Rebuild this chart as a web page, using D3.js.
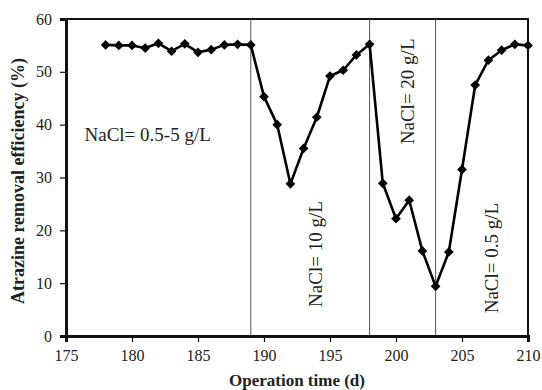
<!DOCTYPE html>
<html>
<head>
<meta charset="utf-8">
<script src="https://cdn.jsdelivr.net/npm/d3@7"></script>
<style>
  body { margin: 0; background: #fff; }
  svg text { font-family: "Liberation Serif", "Times New Roman", serif; fill: #222; }
</style>
</head>
<body>
<div id="chart"></div>
<script>
// operation days and removal efficiency (%)
const days = [178, 179, 180, 181, 182, 183, 184, 185, 186, 187, 188, 189,
  190, 191, 192, 193, 194, 195, 196, 197, 198,
  199, 200, 201, 202, 203,
  204, 205, 206, 207, 208, 209, 210];
const efficiency = [55.1, 55.0, 55.0, 54.5, 55.4, 53.9, 55.3, 53.7, 54.2, 55.1, 55.2, 55.1,
  45.3, 40.0, 28.8, 35.5, 41.4, 49.2, 50.3, 53.2, 55.2,
  28.9, 22.2, 25.7, 16.1, 9.4,
  15.9, 31.5, 47.5, 52.2, 54.1, 55.2, 55.0];
const phaseBreaks = [189, 198, 203];
const xTicks = [175, 180, 185, 190, 195, 200, 205, 210];
const yTicks = [0, 10, 20, 30, 40, 50, 60];
const labels = [
  { text: "NaCl= 0.5-5 g/L", day: 176.4, value: 37, rotate: false },
  { text: "NaCl= 10 g/L", day: 194.4, value: 5.5, rotate: true },
  { text: "NaCl= 20 g/L", day: 201.4, value: 36.3, rotate: true },
  { text: "NaCl= 0.5 g/L", day: 207.7, value: 4.3, rotate: true }
];

const width = 542, height = 390;
const margin = { top: 19, right: 14, bottom: 54, left: 66 };

const svg = d3.select("#chart").append("svg")
  .attr("width", width)
  .attr("height", height);

const x = d3.scaleLinear().domain([175, 210]).range([margin.left, width - margin.right]);
const y = d3.scaleLinear().domain([0, 60]).range([height - margin.bottom, margin.top]);

// top and right frame
svg.append("path")
  .attr("d", `M${x(175)},${y(60)}H${x(210)}V${y(0)}`)
  .attr("fill", "none")
  .attr("stroke", "#111")
  .attr("stroke-width", 2);

// phase separators
svg.selectAll(".sep")
  .data(phaseBreaks)
  .enter().append("line")
  .attr("x1", d => x(d)).attr("x2", d => x(d))
  .attr("y1", y(60)).attr("y2", y(0))
  .attr("stroke", "#555")
  .attr("stroke-width", 1);

// axes
const xAxis = svg.append("g")
  .attr("transform", `translate(0,${y(0)})`)
  .call(d3.axisBottom(x).tickValues(xTicks).tickSize(6).tickPadding(8));
const yAxis = svg.append("g")
  .attr("transform", `translate(${x(175)},0)`)
  .call(d3.axisLeft(y).tickValues(yTicks).tickSize(6).tickPadding(8));

[xAxis, yAxis].forEach(g => {
  g.select(".domain").attr("stroke", "#111").attr("stroke-width", 3);
  g.selectAll(".tick line").attr("stroke", "#111").attr("stroke-width", 1.2);
  g.selectAll(".tick text").style("font-size", "16px")
    .style("font-family", "'Liberation Serif', 'Times New Roman', serif").attr("fill", "#222");
});

// series line
const line = d3.line()
  .x((d, i) => x(days[i]))
  .y(d => y(d));

svg.append("path")
  .datum(efficiency)
  .attr("d", line)
  .attr("fill", "none")
  .attr("stroke", "#000")
  .attr("stroke-width", 2.6)
  .attr("stroke-linejoin", "round");

svg.selectAll(".pt")
  .data(efficiency)
  .enter().append("path")
  .attr("d", d3.symbol().type(d3.symbolDiamond2).size(60))
  .attr("transform", (d, i) => `translate(${x(days[i])},${y(d)})`)
  .attr("fill", "#000");

// phase labels
svg.selectAll(".lab")
  .data(labels)
  .enter().append("text")
  .attr("transform", d => `translate(${x(d.day)},${y(d.value)})` + (d.rotate ? " rotate(-90)" : ""))
  .style("font-size", "19px")
  .text(d => d.text);

// axis titles
svg.append("text")
  .attr("x", 297)
  .attr("y", 386)
  .attr("text-anchor", "middle")
  .style("font-size", "17px")
  .style("font-weight", "bold")
  .text("Operation time (d)");

svg.append("text")
  .attr("transform", "translate(24,181) rotate(-90)")
  .attr("text-anchor", "middle")
  .style("font-size", "18px")
  .style("font-weight", "bold")
  .text("Atrazine removal efficiency (%)");
</script>
</body>
</html>
